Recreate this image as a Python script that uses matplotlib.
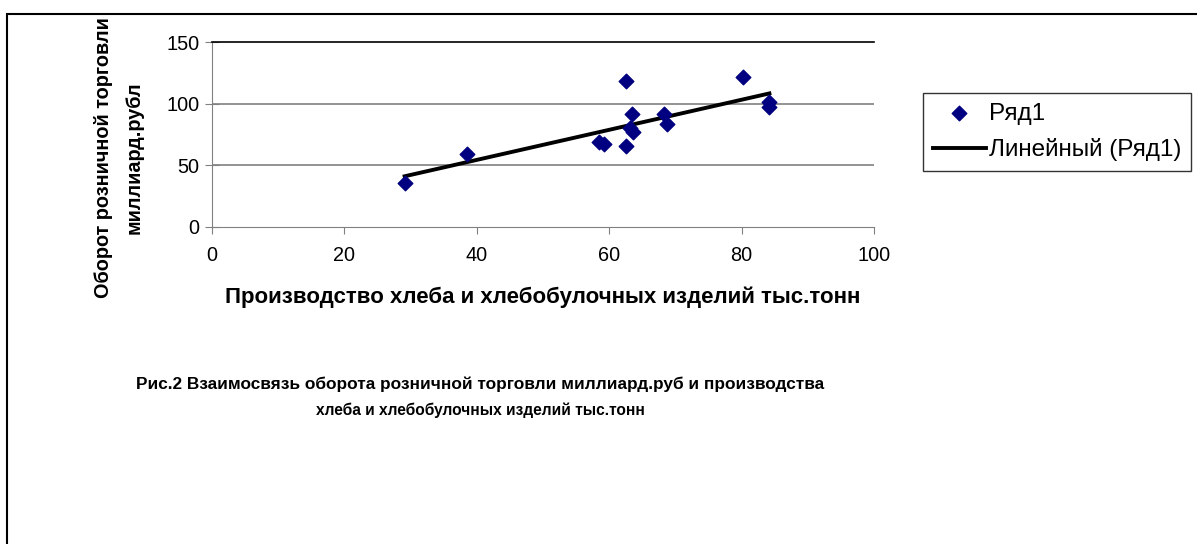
import numpy as np
import matplotlib
matplotlib.use("Agg")
import matplotlib.pyplot as plt
from matplotlib.patches import Rectangle

# Производство хлеба (тыс.тонн) vs оборот розничной торговли (млрд.руб)
bread = [29.1, 38.5, 58.4, 59.2, 62.6, 62.6, 63.4, 63.1, 63.6, 68.3, 68.7, 80.2, 84.2, 84.2]
turnover = [35.7, 59.3, 69.2, 67.0, 118.4, 65.4, 91.5, 80.5, 76.9, 92.0, 83.2, 121.7, 101.1, 97.5]

x_ticks = [0, 20, 40, 60, 80, 100]
y_ticks = [0, 50, 100, 150]

plt.rcParams['font.family'] = ['Liberation Sans', 'DejaVu Sans']

fig = plt.figure(figsize=(11.97, 5.44), dpi=100)
W, H = 1197, 544

# outer chart border (cut off at the right and bottom)
fig.patches.append(Rectangle((7 / W, -0.1), 1.2, 1 - 14 / H + 0.1,
                             transform=fig.transFigure, fill=False,
                             edgecolor='black', linewidth=1.5))

ax = fig.add_axes([212 / W, 1 - 227 / H, (874 - 212) / W, (227 - 42) / H])

x = np.array(bread)
y = np.array(turnover)
k, b = np.polyfit(x, y, 1)
xs = np.array([x.min(), x.max()])

ax.scatter(x, y, marker='D', s=55, color='#000080', zorder=3, label='Ряд1')
ax.plot(xs, k * xs + b, color='black', linewidth=2.8, zorder=2,
        label='Линейный (Ряд1)')

ax.set_xlim(0, 100)
ax.set_ylim(0, 150)
ax.set_xticks(x_ticks)
ax.set_yticks(y_ticks)
ax.tick_params(axis='both', labelsize=14.3, color='#808080')
ax.tick_params(axis='x', direction='out', length=5, pad=9)
ax.tick_params(axis='y', direction='inout', length=10, pad=4)

for yv in y_ticks[1:3]:
    ax.axhline(yv, color='#808080', linewidth=1.2, zorder=1)

ax.spines['top'].set_color('black')
ax.spines['top'].set_linewidth(1.2)
ax.spines['right'].set_visible(False)
ax.spines['left'].set_color('#808080')
ax.spines['bottom'].set_color('#808080')

fig.text(543 / W, 1 - 297 / H, 'Производство хлеба и хлебобулочных изделий тыс.тонн',
         ha='center', va='center', fontsize=16, fontweight='bold')
fig.text(119 / W, 1 - 158 / H, 'Оборот розничной торговли\nмиллиард.рубл',
         ha='center', va='center', rotation=90, fontsize=14.3, fontweight='bold',
         linespacing=1.8)
fig.text(480 / W, 1 - 384 / H,
         'Рис.2 Взаимосвязь оборота розничной торговли миллиард.руб и производства',
         ha='center', va='center', fontsize=12.4, fontweight='bold')
fig.text(480 / W, 1 - 410 / H, 'хлеба и хлебобулочных изделий тыс.тонн',
         ha='center', va='center', fontsize=11.2, fontweight='bold')

leg = ax.legend(loc='upper left', bbox_to_anchor=(923 / W, 1 - 93 / H),
                bbox_transform=fig.transFigure, frameon=True, fancybox=False,
                fontsize=17.5, handlelength=2.2, borderpad=0.4, labelspacing=0.55,
                handletextpad=0.1, borderaxespad=0, scatterpoints=1)
leg.get_frame().set_edgecolor('black')
leg.get_frame().set_linewidth(1.0)

plt.savefig("out.png", dpi=100)
